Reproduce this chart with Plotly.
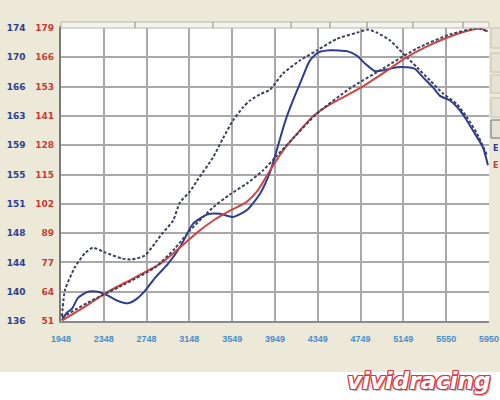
import numpy as np
import plotly.graph_objects as go

# ---- data ----
rpm_ticks = [1948, 2348, 2748, 3148, 3549, 3949, 4349, 4749, 5149, 5550, 5950]
tq_ticks = ["136", "140", "144", "148", "151", "155", "159", "163", "166", "170", "174"]
hp_ticks = ["51", "64", "77", "89", "102", "115", "128", "141", "153", "166", "179"]

tq_a_rpm = [1957, 2004, 2051, 2107, 2200, 2294, 2387, 2481, 2574, 2659, 2733, 2827, 2948, 3070,
            3182, 3313, 3435, 3556, 3687, 3809, 3902, 3968, 4042, 4117, 4183, 4276, 4351, 4463,
            4622, 4716, 4790, 4884, 4959, 5090, 5183, 5258, 5333, 5426, 5492, 5585, 5679, 5725,
            5800, 5894, 5940]
tq_a = [136.1, 137.1, 137.6, 139.0, 139.8, 139.8, 139.3, 138.6, 138.3, 138.9, 139.9, 141.6, 143.4,
        145.8, 148.6, 149.8, 149.9, 149.5, 150.4, 152.5, 155.3, 158.3, 161.8, 164.6, 166.8, 169.8,
        170.8, 171.1, 171.0, 170.4, 169.4, 168.4, 168.5, 168.9, 168.9, 168.7, 167.6, 166.3, 165.2,
        164.6, 163.3, 162.4, 160.7, 158.5, 156.2]

tq_b_rpm = [1957, 1985, 2079, 2172, 2247, 2359, 2518, 2612, 2733, 2827, 2892, 2995, 3061, 3154,
            3220, 3369, 3463, 3556, 3650, 3715, 3809, 3902, 4024, 4183, 4342, 4529, 4716, 4818,
            4902, 5024, 5146, 5277, 5398, 5520, 5651, 5744, 5838, 5931]
tq_b = [136.6, 140.0, 143.0, 144.8, 145.5, 144.9, 144.1, 144.0, 144.5, 146.1, 147.3, 149.0, 151.4,
        152.8, 154.2, 157.2, 159.7, 162.0, 163.7, 164.6, 165.4, 166.0, 168.1, 169.8, 171.1, 172.6,
        173.4, 173.8, 173.4, 172.4, 170.7, 168.9, 167.2, 165.5, 164.1, 162.4, 160.3, 157.5]

hp_a_rpm = [1957, 2172, 2387, 2640, 2892, 3061, 3220, 3369, 3528, 3678, 3781, 3874, 3968, 4061,
            4183, 4305, 4463, 4603, 4772, 4959, 5164, 5351, 5538, 5725, 5866, 5940]
hp_a = [51.2, 57.3, 63.8, 70.0, 76.5, 83.1, 89.6, 94.8, 99.2, 102.8, 107.6, 114.6, 121.6, 127.7,
        134.3, 140.4, 145.6, 149.1, 153.5, 159.2, 165.7, 170.5, 174.4, 177.5, 178.8, 177.5]

hp_b_rpm = [1957, 2200, 2518, 2827, 3014, 3154, 3369, 3528, 3687, 3837, 3968, 4117, 4342, 4650,
            4959, 5277, 5585, 5838, 5940]
hp_b = [52.5, 59.1, 66.5, 74.4, 82.7, 90.5, 100.6, 106.3, 111.1, 116.8, 123.3, 130.7, 141.7, 152.6,
        161.3, 170.1, 176.2, 178.8, 177.5]

BG = "#ECE9D8"
NAVY = "#2f3d8f"
RED = "#c83a32"
DASH = "#3c4260"
GRID = "#a9a9a9"

fig = go.Figure()
fig.add_trace(go.Scatter(x=hp_a_rpm, y=hp_a, mode="lines", yaxis="y2",
                         line=dict(color="#d04545", width=2, shape="spline", smoothing=0.6)))
fig.add_trace(go.Scatter(x=hp_b_rpm, y=hp_b, mode="lines", yaxis="y2",
                         line=dict(color=DASH, width=2, dash="3px,2px", shape="spline", smoothing=0.6)))
fig.add_trace(go.Scatter(x=tq_b_rpm, y=tq_b, mode="lines", yaxis="y",
                         line=dict(color=DASH, width=2, dash="3px,2px", shape="spline", smoothing=0.6)))
fig.add_trace(go.Scatter(x=tq_a_rpm, y=tq_a, mode="lines", yaxis="y",
                         line=dict(color=NAVY, width=2, shape="spline", smoothing=0.6)))

tick_font = dict(family="DejaVu Sans", size=9, weight="bold")
x_font = dict(family="Liberation Sans", size=9, weight="bold", color="#4a8cc8")

fig.update_layout(
    width=500, height=400,
    margin=dict(l=61, r=11, t=28, b=79, autoexpand=False),
    paper_bgcolor=BG, plot_bgcolor="white",
    showlegend=False,
    xaxis=dict(range=[rpm_ticks[0], rpm_ticks[-1]], tickvals=rpm_ticks,
               ticktext=[str(t) for t in rpm_ticks], showgrid=True, gridcolor=GRID, gridwidth=1.5,
               zeroline=False, showline=True, linecolor="#8a8a8a", linewidth=1.5, mirror=True,
               ticks="", ticklabelstandoff=8, automargin=False, ticklabeloverflow="allow",
               tickfont=x_font),
    yaxis=dict(range=[136, 174], tickvals=list(np.linspace(136, 174, 11)), ticktext=tq_ticks,
               showgrid=False, zeroline=False, ticks="", ticklabelstandoff=32, automargin=False,
               showline=True, linecolor="#7a7a7a", linewidth=1.5,
               tickfont=dict(tick_font, color=NAVY)),
    yaxis2=dict(range=[51, 179], tickvals=list(np.linspace(51, 179, 11)), ticktext=hp_ticks,
                overlaying="y", side="left", showgrid=True, gridcolor=GRID, gridwidth=1.5,
                zeroline=False, ticks="", ticklabelstandoff=6, automargin=False,
                tickfont=dict(tick_font, color=RED)),
)

shapes = []
# white bottom band
shapes.append(dict(type="rect", xref="paper", yref="paper", x0=-0.2, x1=1.1,
                   y0=-80 / 293, y1=-51 / 293, fillcolor="white", line_width=0, layer="below"))
# ruler strip on top
shapes.append(dict(type="rect", xref="paper", yref="paper", x0=0, x1=1.0, y0=1.0, y1=1 + 6 / 293,
                   fillcolor="#f4f3ee", line=dict(color="#b8b6aa", width=1)))
for px in [135, 213, 291, 330, 367, 413, 463]:
    xp = (px - 61) / 428
    shapes.append(dict(type="line", xref="paper", yref="paper", x0=xp, x1=xp,
                       y0=1.0, y1=1 + 6 / 293, line=dict(color="#8a887e", width=1)))
# right-side buttons
for (y0, y1) in [(28, 48), (53, 72), (75, 93), (98, 117), (120, 138)]:
    shapes.append(dict(type="rect", xref="paper", yref="paper",
                       x0=(491 - 61) / 428, x1=(502 - 61) / 428,
                       y0=(321 - y1) / 293, y1=(321 - y0) / 293,
                       fillcolor="#e6e3d6",
                       line=dict(color="#6e6e6e" if y0 == 120 else "#c4c1b3", width=1)))
fig.update_layout(shapes=shapes)

fig.add_annotation(x=(490.5 - 61) / 428, y=(321 - 148) / 293, xref="paper", yref="paper",
                   text="E", showarrow=False, xanchor="left",
                   font=dict(family="DejaVu Sans", size=8, color=NAVY, weight="bold"))
fig.add_annotation(x=(490.5 - 61) / 428, y=(321 - 165) / 293, xref="paper", yref="paper",
                   text="E", showarrow=False, xanchor="left",
                   font=dict(family="DejaVu Sans", size=8, color=RED, weight="bold"))
outline = "#d8343e"
fig.add_annotation(x=(418 - 61) / 428, y=(321 - 381) / 293, xref="paper", yref="paper",
                   text="vividracing", showarrow=False, xanchor="center", yanchor="middle",
                   font=dict(family="DejaVu Sans", size=23, color="white", weight="bold",
                             style="italic",
                             shadow=(f"1px 0 0 {outline}, -1px 0 0 {outline}, 0 1px 0 {outline}, "
                                     f"0 -1px 0 {outline}, 1px 1px 0 {outline}, -1px -1px 0 {outline}, "
                                     f"1px -1px 0 {outline}, -1px 1px 0 {outline}, 2px 2px 1px #b0b0b0")))

fig.write_html("out.html", config={"displayModeBar": False},
               post_script="document.body.style.margin='0';document.body.style.overflow='hidden';")
